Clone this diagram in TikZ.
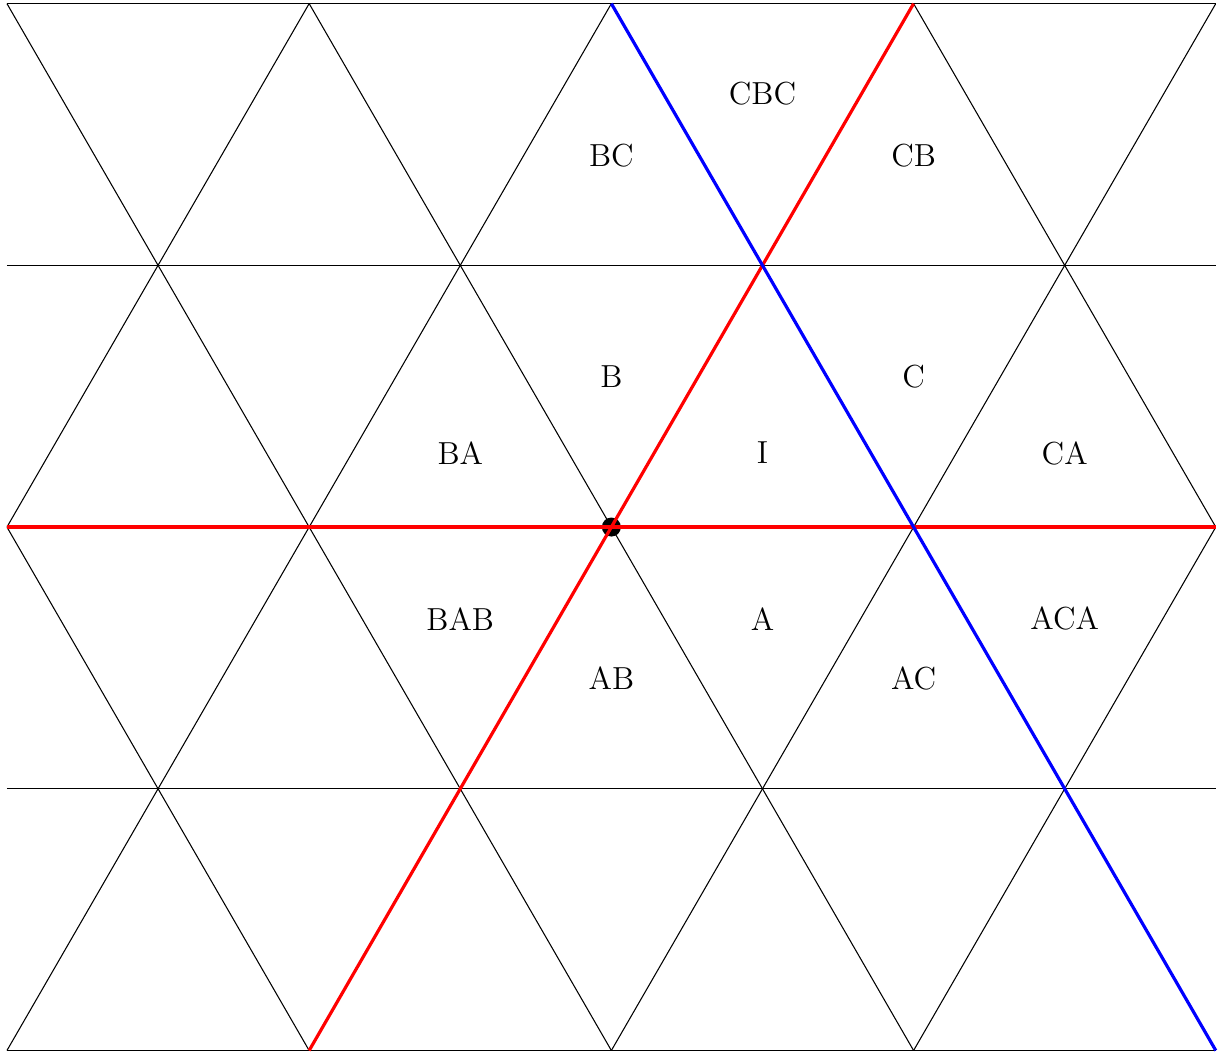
\documentclass[tikz,border=0pt]{standalone}
\begin{document}
\begin{tikzpicture}[x=2cm,y=2cm,
  gridline/.style={line width=0.4pt,black},
  mirrorline/.style={line width=1.2pt},
  lbl/.style={font=\large,inner sep=0pt}]
\def\h{1.7320508}
\useasboundingbox (-4.046,-3.476) rectangle (4.041,3.488);
\begin{scope}
  \clip (-4,-2*\h-0.01) rectangle (4,2*\h+0.01);
  \foreach \k in {-3,...,3} {
    \draw[gridline] (2*\k-2,-2*\h) -- (2*\k+2,2*\h);
    \draw[gridline] (2*\k+2,-2*\h) -- (2*\k-2,2*\h);
  }
  \foreach \j in {-2,...,2} {
    \draw[gridline] (-4,\j*\h) -- (4,\j*\h);
  }
\end{scope}
\node[circle,fill=black,inner sep=0pt,minimum size=0.252cm] (o) at (0,0) {};
\coordinate (hl) at (-4,0);
\coordinate (hr) at (4,0);
\coordinate (rl) at (-2,-2*\h);
\coordinate (ru) at (2,2*\h);
\coordinate (bu) at (0,2*\h);
\coordinate (bl) at (4,-2*\h);
\draw[red,mirrorline] (hl) -- (hr);
\draw[red,mirrorline] (rl) -- (ru);
\draw[blue,mirrorline] (bu) -- (bl);
\node[lbl] (cbc) at (1,2.867) {CBC};
\node[lbl] (bc) at (0,2.459) {BC};
\node[lbl] (cb) at (2,2.459) {CB};
\node[lbl] (b) at (0,0.994) {B};
\node[lbl] (c) at (2,0.994) {C};
\node[lbl] (ba) at (-1,0.490) {BA};
\node[lbl] (i) at (1,0.490) {I};
\node[lbl] (ca) at (3,0.490) {CA};
\node[lbl] (bab) at (-1,-0.606) {BAB};
\node[lbl] (a) at (1,-0.606) {A};
\node[lbl] (aca) at (3,-0.606) {ACA};
\node[lbl] (ab) at (0,-1.003) {AB};
\node[lbl] (ac) at (2,-1.003) {AC};
\end{tikzpicture}
\end{document}
